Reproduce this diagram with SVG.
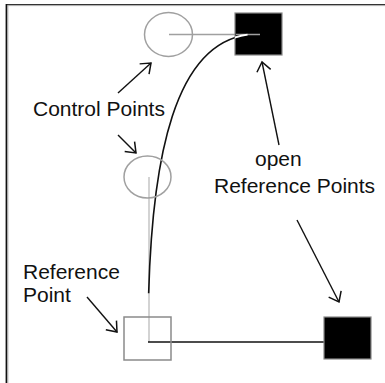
<svg xmlns="http://www.w3.org/2000/svg" width="385" height="383" viewBox="0 0 385 383">
<style>
.lbl{font-family:"Liberation Sans",Arial,sans-serif;font-size:21px;fill:#111}
.cp{fill:none;stroke:#a0a0a0;stroke-width:1.5}
.arr{fill:none;stroke:#111;stroke-width:1.4;marker-end:url(#ah)}
.blk{fill:#000;stroke:#888;stroke-width:1.2}
</style>
<defs>
<marker id="ah" markerUnits="userSpaceOnUse" viewBox="-12 -9 14 18" markerWidth="14" markerHeight="18" refX="0" refY="0" orient="auto">
<path d="M-9,-7 L0,0 L-9,7" fill="none" stroke="#111" stroke-width="1.5"/>
</marker>
<clipPath id="sqclip"><rect x="235" y="13" width="47" height="42"/></clipPath>
</defs>
<rect width="385" height="383" fill="#fff"/>
<g id="frame">
<line x1="6" y1="4.5" x2="385" y2="4.5" stroke="#333" stroke-width="1"/>
<line x1="7" y1="5.6" x2="385" y2="5.6" stroke="#aaa" stroke-width="1"/>
<line x1="6.4" y1="4" x2="6.4" y2="383" stroke="#111" stroke-width="1.6"/>
<line x1="7.8" y1="6" x2="7.8" y2="383" stroke="#999" stroke-width="1"/>
</g>
<g id="connectors">
<line x1="149" y1="177" x2="149" y2="342" stroke="#c4c4c4" stroke-width="1.5"/>
<line x1="169" y1="34.5" x2="260" y2="34.5" stroke="#a0a0a0" stroke-width="1.5"/>
<line x1="148" y1="342" x2="324" y2="342" stroke="#111" stroke-width="1.5"/>
<path id="curve" d="M148.65,293.28 C152.52,156.2 174.88,44.34 247.54,34.68" fill="none" stroke="#111" stroke-width="1.6"/>
<path class="arr" d="M118,93 L151,63"/>
<path class="arr" d="M118,135 L136,153"/>
<path class="arr" d="M279,145 L262,62"/>
<path class="arr" d="M297,220 L339,302"/>
<path class="arr" d="M87,297 L117,332"/>
</g>
<g id="top-control-point"><ellipse class="cp" cx="168.5" cy="34.5" rx="24" ry="22"/></g>
<g id="mid-control-point"><ellipse class="cp" cx="147.5" cy="177" rx="23.5" ry="21"/></g>
<g id="reference-point"><rect x="124" y="317" width="47" height="43" fill="none" stroke="#8a8a8a" stroke-width="1.5"/></g>
<g id="top-open-reference-point">
<rect class="blk" x="235" y="13" width="47" height="42"/>
<line x1="236" y1="34.5" x2="260" y2="34.5" stroke="#a0a0a0" stroke-width="1.5"/>
<path d="M148.65,293.28 C152.52,156.2 174.88,44.34 247.54,34.68" fill="none" stroke="#fff" stroke-width="1.8" clip-path="url(#sqclip)"/>
</g>
<g id="bottom-open-reference-point"><rect class="blk" x="324" y="317" width="47" height="42"/></g>
<g id="labels">
<text class="lbl" x="33" y="116">Control Points</text>
<text class="lbl" x="255" y="166">open</text>
<text class="lbl" x="214" y="193">Reference Points</text>
<text class="lbl" x="23" y="279">Reference</text>
<text class="lbl" x="23" y="302">Point</text>
</g>
</svg>
